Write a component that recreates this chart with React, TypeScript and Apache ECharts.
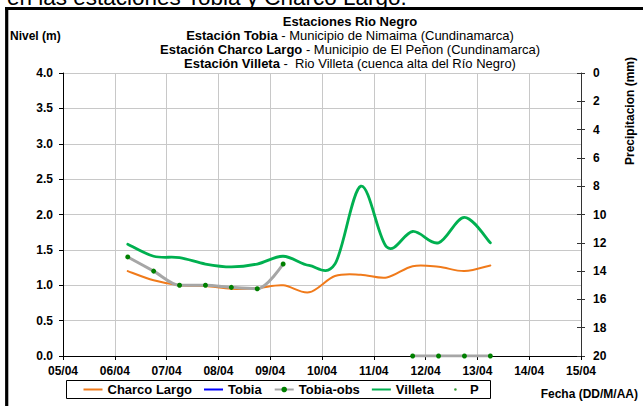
import React, { useEffect, useRef } from "react";
import * as echarts from "echarts";

// sample times, as day of April (fractional)
const times = [6.25, 6.75, 7.25, 7.75, 8.25, 8.75, 9.25, 9.75, 10.25, 10.75, 11.25, 11.75, 12.25, 12.75, 13.25];
const charcoLargo = [1.2, 1.07, 1.0, 0.99, 0.95, 0.96, 1.0, 0.9, 1.13, 1.15, 1.11, 1.27, 1.26, 1.2, 1.28];
const villeta = [1.58, 1.41, 1.39, 1.3, 1.26, 1.3, 1.41, 1.28, 1.3, 2.4, 1.54, 1.76, 1.6, 1.96, 1.6];
const tobiaObs: (number | null)[] = [1.4, 1.2, 1.0, 1.0, 0.97, 0.95, 1.3, null, null, null, null, 0, 0, 0, 0];
const tobia: (number | null)[] = [];
const precip: (number | null)[] = [];
const seriesNames = ["Charco Largo", "Tobia", "Tobia-obs", "Villeta", "P"];
const titleLines = [
  ["", "Estaciones Rio Negro"],
  ["Estación Tobia", " - Municipio de Nimaima (Cundinamarca)"],
  ["Estación Charco Largo", " - Municipio de El Peñon (Cundinamarca)"],
  ["Estación Villeta", " -  Rio Villeta (cuenca alta del Río Negro)"],
];

const FONT = "'Liberation Sans', Arial, sans-serif";
const LINE_ICON = "path://M0 0L0.01 0L0 0.01Z M19 7L18.99 7L19 6.99Z M0 2.5H19V4.5H0Z";
const DOT_ICON = "path://M0 0L0.01 0L0 0.01Z M19 7L18.99 7L19 6.99Z M8.2 3.5A1.3 1.3 0 1 1 10.8 3.5A1.3 1.3 0 1 1 8.2 3.5Z";

function pairs(vals: (number | null)[]) {
  return times.map((t, i) => [t, vals[i]]);
}

// Catmull-Rom style smoothed line (like a spreadsheet "smoothed line") drawn through the axis scales
function smoothSeries(name: string, vals: number[], color: string, width: number) {
  return {
    name,
    type: "custom",
    data: pairs(vals),
    encode: { x: 0, y: 1 },
    itemStyle: { color },
    z: 2,
    renderItem: (params: any, api: any) => {
      if (params.dataIndex !== 0) return null;
      const pts = times.map((t, i) => api.coord([t, vals[i]]));
      const n = pts.length;
      let d = `M${pts[0][0]},${pts[0][1]}`;
      for (let i = 0; i < n - 1; i++) {
        const p0 = pts[Math.max(i - 1, 0)];
        const p1 = pts[i];
        const p2 = pts[i + 1];
        const p3 = pts[Math.min(i + 2, n - 1)];
        const c1x = p1[0] + (p2[0] - p0[0]) / 6;
        const c1y = p1[1] + (p2[1] - p0[1]) / 6;
        const c2x = p2[0] - (p3[0] - p1[0]) / 6;
        const c2y = p2[1] - (p3[1] - p1[1]) / 6;
        d += ` C${c1x},${c1y} ${c2x},${c2y} ${p2[0]},${p2[1]}`;
      }
      return {
        type: "path",
        shape: { pathData: d },
        style: { fill: "none", stroke: color, lineWidth: width, lineJoin: "round", lineCap: "round" },
      };
    },
  };
}

export default function App() {
  const ref = useRef<HTMLDivElement>(null);
  useEffect(() => {
    const chart = echarts.init(ref.current!, undefined, { renderer: "svg" });
    const titleY = [21, 35, 49, 63];
    const titleGraphics = titleLines.map((ln, i) => ({
      type: "text",
      x: 350,
      y: titleY[i],
      style: {
        text: i === 0 ? "{b|" + ln[1] + "}" : "{b|" + ln[0] + "}" + ln[1],
        rich: { b: { fontWeight: "bold", fontSize: 13, fontFamily: FONT, fill: "#000" } },
        fontSize: 13,
        fontFamily: FONT,
        fill: "#000",
        align: "center",
        verticalAlign: "middle",
      },
    }));
    chart.setOption({
      animation: false,
      backgroundColor: "#fff",
      grid: { left: 63, right: 62, top: 73, bottom: 50 },
      legend: {
        left: 83.5,
        top: 383,
        itemGap: 12,
        itemWidth: 19,
        itemHeight: 7,
        padding: 0,
        textStyle: { fontFamily: FONT, fontWeight: "bold", fontSize: 13, color: "#000" },
        data: [
          { name: "Charco Largo", icon: LINE_ICON },
          { name: "Tobia", icon: LINE_ICON },
          { name: "Tobia-obs" },
          { name: "Villeta", icon: LINE_ICON },
          { name: "P", icon: DOT_ICON },
        ],
      },
      xAxis: {
        type: "value",
        min: 5,
        max: 15,
        interval: 1,
        axisLine: { lineStyle: { color: "#000", width: 1 } },
        axisTick: { show: true, length: 4, lineStyle: { color: "#000" } },
        axisLabel: {
          margin: 9,
          fontFamily: FONT,
          fontWeight: "bold",
          fontSize: 12,
          color: "#000",
          formatter: (v: number) => String(v).padStart(2, "0") + "/04",
        },
        splitLine: { show: true, lineStyle: { color: "#c8c8c8", width: 1 } },
      },
      yAxis: [
        {
          type: "value",
          min: 0,
          max: 4,
          interval: 0.5,
          axisLine: { show: true, lineStyle: { color: "#000", width: 1 } },
          axisTick: { show: true, length: 4, lineStyle: { color: "#000" } },
          axisLabel: {
            margin: 10,
            fontFamily: FONT,
            fontWeight: "bold",
            fontSize: 12,
            color: "#000",
            formatter: (v: number) => v.toFixed(1),
          },
          splitLine: { show: true, lineStyle: { color: "#c8c8c8", width: 1 } },
        },
        {
          type: "value",
          min: 0,
          max: 20,
          interval: 2,
          inverse: true,
          position: "right",
          axisLine: { show: true, lineStyle: { color: "#333", width: 1 } },
          axisTick: { show: true, length: 4, lineStyle: { color: "#333" } },
          axisLabel: { margin: 12, fontFamily: FONT, fontWeight: "bold", fontSize: 12, color: "#000" },
          splitLine: { show: false },
        },
        {
          type: "value",
          min: 0,
          max: 20,
          interval: 2,
          inverse: true,
          position: "right",
          axisLine: { show: false },
          axisTick: { show: true, inside: true, length: 4, lineStyle: { color: "#333" } },
          axisLabel: { show: false },
          splitLine: { show: false },
        },
      ],
      graphic: [
        {
          type: "text",
          x: 7,
          y: -2.5,
          style: { text: "en las estaciones Tobia y Charco Largo.", fontSize: 22.5, fontFamily: FONT, fill: "#000", verticalAlign: "middle" },
        },
        { type: "line", shape: { x1: 6.7, y1: 7, x2: 6.7, y2: 406 }, style: { stroke: "#000", lineWidth: 3.2 } },
        { type: "line", shape: { x1: 5, y1: 8.5, x2: 643, y2: 8.5 }, style: { stroke: "#000", lineWidth: 3 } },
        ...titleGraphics,
        {
          type: "text",
          x: 10,
          y: 36,
          style: { text: "Nivel (m)", fontSize: 12, fontWeight: "bold", fontFamily: FONT, fill: "#000", verticalAlign: "middle" },
        },
        {
          type: "text",
          x: 630,
          y: 111,
          rotation: Math.PI / 2,
          style: { text: "Precipitacion (mm)", fontSize: 12, fontWeight: "bold", fontFamily: FONT, fill: "#000", align: "center", verticalAlign: "middle" },
        },
        {
          type: "text",
          x: 638,
          y: 394,
          style: { text: "Fecha (DD/M/AA)", fontSize: 12, fontWeight: "bold", fontFamily: FONT, fill: "#000", align: "right", verticalAlign: "middle" },
        },
        {
          type: "rect",
          z: -1,
          shape: { x: 66.5, y: 380.5, width: 424, height: 18 },
          style: { fill: "#fff", stroke: "#000", lineWidth: 1 },
        },
      ],
      series: [
        smoothSeries(seriesNames[0], charcoLargo, "#f07a1a", 2),
        {
          name: seriesNames[1],
          type: "line",
          data: tobia,
          symbol: "none",
          lineStyle: { color: "#0000ff", width: 2.5 },
          itemStyle: { color: "#0000ff" },
        },
        {
          name: seriesNames[2],
          type: "line",
          data: pairs(tobiaObs),
          smooth: 0.3,
          connectNulls: false,
          symbol: "circle",
          symbolSize: 5,
          lineStyle: { color: "#a6a6a6", width: 3 },
          itemStyle: { color: "#008000" },
          z: 3,
        },
        smoothSeries(seriesNames[3], villeta, "#00b050", 2.8),
        {
          name: seriesNames[4],
          type: "scatter",
          yAxisIndex: 1,
          data: precip,
          symbolSize: 3,
          itemStyle: { color: "#008000" },
        },
      ],
    });
    return () => chart.dispose();
  }, []);
  return <div ref={ref} style={{ position: "absolute", left: 0, top: 0, width: 643, height: 406 }} />;
}
